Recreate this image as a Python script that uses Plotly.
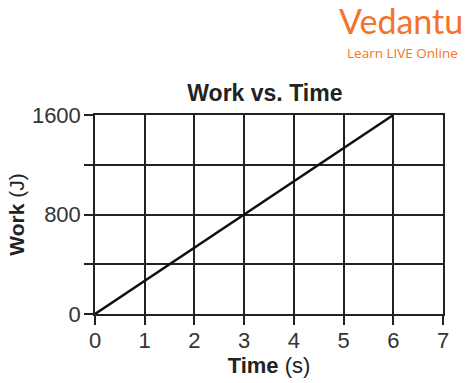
import plotly.graph_objects as go

time_s = [0, 6]
work_j = [0, 1600]
x_ticks = [0, 1, 2, 3, 4, 5, 6, 7]
y_tickvals = [0, 400, 800, 1200, 1600]
y_ticktext = ["0", "", "800", "", "1600"]

fig = go.Figure()
fig.add_trace(go.Scatter(x=time_s, y=work_j, mode="lines",
                         line=dict(color="#111111", width=2.5),
                         showlegend=False, hoverinfo="skip", cliponaxis=False))

axis_common = dict(showgrid=True, gridcolor="#222222", gridwidth=1.5,
                   showline=True, linecolor="#222222", linewidth=1.5, mirror=True,
                   ticks="outside", ticklen=9, tickwidth=1.5, tickcolor="#222222",
                   zeroline=False,
                   tickfont=dict(family="Liberation Sans, Arial", size=22, color="#333333"))

fig.update_xaxes(range=[0, 7], tickvals=x_ticks, ticktext=[str(v) for v in x_ticks],
                 ticklabelstandoff=-3,
                 title=dict(text="<b>Time</b> (s)", standoff=2,
                            font=dict(family="Liberation Sans, Arial", size=22, color="#222222")),
                 **axis_common)
fig.update_yaxes(range=[0, 1600], tickvals=y_tickvals, ticktext=y_ticktext,
                 ticklabelstandoff=-1,
                 title=dict(text="<b>Work</b> (J)", standoff=2,
                            font=dict(family="Liberation Sans, Arial", size=21, color="#222222")),
                 **axis_common)

fig.update_layout(
    width=473, height=383,
    margin=dict(l=95, r=30, t=115, b=69),
    paper_bgcolor="white", plot_bgcolor="white",
    title=dict(text="<b>Work vs. Time</b>", x=0.56, xanchor="center", y=0.757, yanchor="middle",
               font=dict(family="Liberation Sans, Arial", size=23, color="#222222")),
    annotations=[
        dict(text="Vedantu", xref="paper", yref="paper", x=1.063, y=1.475, xanchor="right",
             yanchor="middle", showarrow=False,
             font=dict(family="Lato", size=34, color="#F47328")),
        dict(text="Learn LIVE Online", xref="paper", yref="paper", x=1.05, y=1.31,
             xanchor="right", yanchor="middle", showarrow=False,
             font=dict(family="Open Sans", size=13.5, color="#F47328")),
    ],
)

fig.write_html("out.html")
